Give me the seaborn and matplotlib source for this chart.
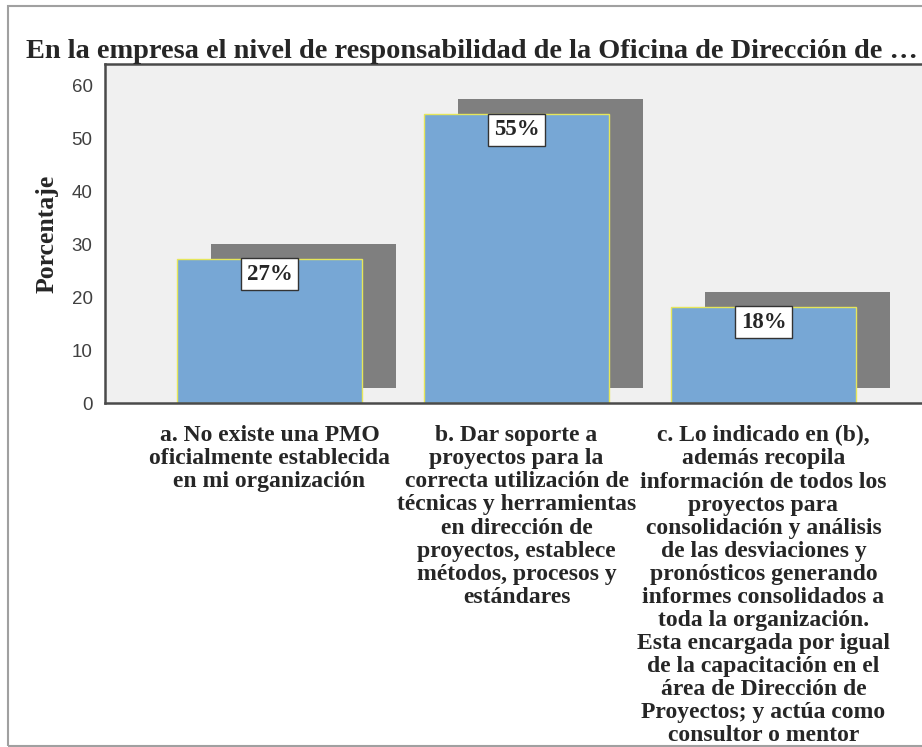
import matplotlib
matplotlib.use('Agg')
import matplotlib.pyplot as plt
import matplotlib.patheffects as pe
import seaborn as sns

title = 'En la empresa el nivel de responsabilidad de la Oficina de Dirección de …'
categories = [
    'a. No existe una PMO\noficialmente establecida\nen mi organización',
    'b. Dar soporte a\nproyectos para la\ncorrecta utilización de\ntécnicas y herramientas\n'
    'en dirección de\nproyectos, establece\nmétodos, procesos y\nestándares',
    'c. Lo indicado en (b),\nademás recopila\ninformación de todos los\nproyectos para\n'
    'consolidación y análisis\nde las desviaciones y\npronósticos generando\n'
    'informes consolidados a\ntoda la organización.\nEsta encargada por igual\n'
    'de la capacitación en el\nárea de Dirección de\nProyectos; y actúa como\nconsultor o mentor',
]
percent = [27.27, 54.55, 18.18]
bar_labels = ['27%', '55%', '18%']
y_ticks = [0, 10, 20, 30, 40, 50, 60]

sns.set_style('white')
plt.rcParams['font.family'] = ['Liberation Serif', 'DejaVu Serif']

fig = plt.figure(figsize=(9.22, 7.47), dpi=100)
ax = fig.add_axes([105 / 922, 1 - 403 / 747, 823 / 922, 339 / 747])
ax.set_facecolor('#f0f0f0')

sns.barplot(x=categories, y=percent, color='#77a7d5', width=0.75,
            edgecolor='#e6e65a', linewidth=1, saturation=1, ax=ax)

# gray drop shadow behind each bar
for bar in ax.patches:
    bar.set_path_effects([pe.SimplePatchShadow(offset=(24.5, 10.8),
                                               shadow_rgbFace='#7f7f7f', alpha=1),
                          pe.Normal()])

for i, (v, lab) in enumerate(zip(percent, bar_labels)):
    ax.annotate(lab, (i, v), xytext=(0, -3.8), textcoords='offset points',
                ha='center', va='top', fontsize=16.5, fontweight='bold',
                bbox=dict(boxstyle='square,pad=0.24', fc='white', ec='#333333', lw=1))

ax.set_xlim(-0.666, 2.666)
ax.set_ylim(0, 64)
ax.set_yticks(y_ticks)
ax.set_ylabel('Porcentaje', fontsize=18.5, fontweight='bold', labelpad=9)
ax.set_xlabel('')

for lbl in ax.get_yticklabels():
    lbl.set_family(['Liberation Sans', 'DejaVu Sans'])
    lbl.set_fontsize(13.5)
    lbl.set_color('#404040')
for lbl in ax.get_xticklabels():
    lbl.set_fontsize(17)
    lbl.set_fontweight('bold')
    lbl.set_linespacing(1.13)

ax.tick_params(axis='both', direction='out', length=7, width=1.4, color='#333333')
ax.tick_params(axis='x', pad=9)
ax.tick_params(axis='y', pad=2)
for s in ax.spines.values():
    s.set_color('#4a4a4a')
    s.set_linewidth(1.8)

fig.text(26 / 922, 1 - 58 / 747, title, fontsize=20.4, fontweight='bold', va='baseline')

# outer frame
fig.add_artist(plt.Rectangle((8 / 922, 1 / 747), 1.2, 740 / 747, transform=fig.transFigure,
                             fill=False, ec='#a0a0a0', lw=1.5))

fig.savefig('out.png', dpi=100)
